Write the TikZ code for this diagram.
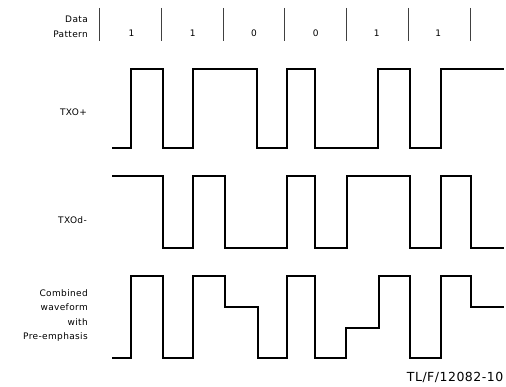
\documentclass[tikz,border=0pt]{standalone}
\usepackage{fontspec}
\setmainfont{DejaVu Sans}[LetterSpace=4]
\begin{document}
\begin{tikzpicture}[x=1pt,y=-1pt,
  wave/.style={line width=2pt,line join=miter,line cap=butt},
  bar/.style={line width=0.9pt,black!75},
  lbl/.style={font=\fontsize{9}{14.5}\selectfont,anchor=east,align=right,inner sep=0pt},
  digit/.style={font=\fontsize{9}{10}\selectfont,inner sep=0pt},
  fig/.style={font=\fontsize{12.5}{15}\selectfont,anchor=east,inner sep=0pt}]
\useasboundingbox (0,0) rectangle (506,387);
% data pattern header
\node[lbl] (dp) at (88,27) {Data\\Pattern};
\foreach \x [count=\i] in {99.3,161.7,223,284.3,346.7,408.3,470}{
  \coordinate (bt\i) at (\x,8);
  \coordinate (bb\i) at (\x,40.7);
  \draw[bar] (bt\i) -- (bb\i);
}
\foreach \x/\d [count=\i] in {131.5/1,192.7/1,254/0,315.7/0,376.7/1,438.3/1}{
  \node[digit] (d\i) at (\x,33) {\d};
}
% TXO+
\node[lbl] (txp) at (87,112) {TXO+};
\draw[wave] (112,148.3) -- (131,148.3) -- (131,69) -- (162.5,69) -- (162.5,148.3)
  -- (193.3,148.3) -- (193.3,69) -- (256.5,69) -- (256.5,148.3) -- (286.7,148.3)
  -- (286.7,69) -- (315,69) -- (315,148.3) -- (378,148.3) -- (378,69)
  -- (409.5,69) -- (409.5,148.3) -- (440.7,148.3) -- (440.7,69) -- (504,69);
% TXOd-
\node[lbl] (txd) at (87,220) {TXOd-};
\draw[wave] (112,175.7) -- (162.5,175.7) -- (162.5,248.3) -- (193.3,248.3)
  -- (193.3,175.7) -- (224.5,175.7) -- (224.5,248.3) -- (286.7,248.3)
  -- (286.7,175.7) -- (315,175.7) -- (315,248.3) -- (346.5,248.3)
  -- (346.5,175.7) -- (409.5,175.7) -- (409.5,248.3) -- (440.7,248.3)
  -- (440.7,175.7) -- (470.7,175.7) -- (470.7,248.3) -- (504,248.3);
% combined
\node[lbl] (cmb) at (88,315.3) {Combined\\waveform\\with\\Pre-emphasis};
\draw[wave] (112,358.3) -- (131,358.3) -- (131,275.7) -- (162.5,275.7)
  -- (162.5,358.3) -- (193.3,358.3) -- (193.3,275.7) -- (224.5,275.7)
  -- (224.5,307.3) -- (258,307.3) -- (258,358.3) -- (286.7,358.3)
  -- (286.7,275.7) -- (315,275.7) -- (315,358.3) -- (346,358.3)
  -- (346,328.3) -- (378.5,328.3) -- (378.5,275.7) -- (409.5,275.7)
  -- (409.5,358.3) -- (440.7,358.3) -- (440.7,275.7) -- (470.7,275.7)
  -- (470.7,307.3) -- (504,307.3);
\node[fig] (tl) at (503.5,377) {TL/F/12082-10};
\end{tikzpicture}
\end{document}
